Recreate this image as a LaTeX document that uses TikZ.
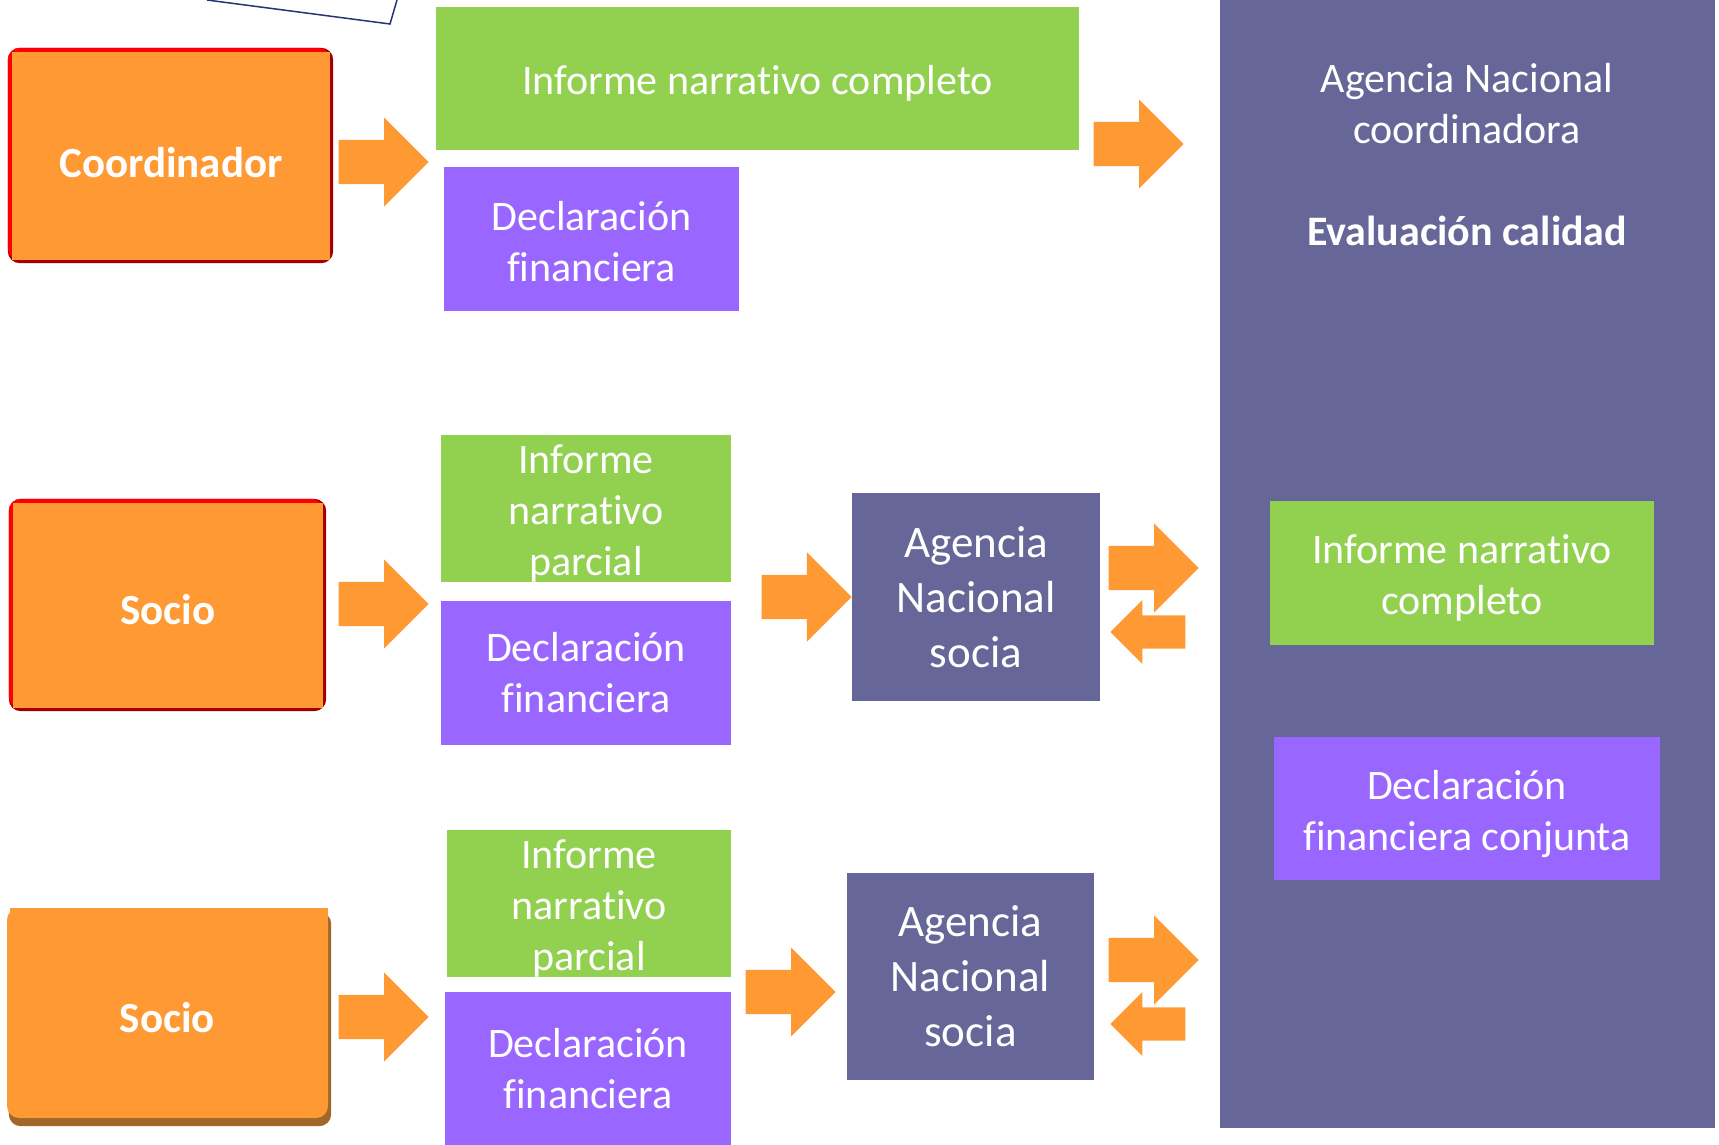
\documentclass[tikz,border=0pt]{standalone}
\usepackage{fontspec}
\setmainfont{Carlito}[Ligatures=NoCommon]
\usetikzlibrary{shapes.arrows,backgrounds}
\definecolor{orng}{RGB}{255,153,51}
\definecolor{grn}{RGB}{146,208,80}
\definecolor{vlt}{RGB}{153,102,255}
\definecolor{pnl}{RGB}{102,102,153}
\definecolor{dred}{RGB}{160,0,0}
\definecolor{brwn}{RGB}{160,102,42}
\definecolor{navy}{RGB}{37,53,112}
\newcommand\tup[1]{\rule{0pt}{#1}}
\begin{document}
\begin{tikzpicture}[x=1pt,y=-1pt,
  every node/.style={text=white,font=\fontsize{42}{51}\selectfont,align=center,inner sep=0pt},
  tdown/.style={execute at begin node={\rule{0pt}{#1}}},
  gbox/.style={fill=grn},
  vbox/.style={fill=vlt},
  pbox/.style={fill=pnl},
  obox/.style={fill=orng,font=\fontsize{43}{51}\selectfont\bfseries},
  agbox/.style={pbox,font=\fontsize{45}{55}\selectfont},
  barrow/.style={single arrow,fill=orng,minimum height=90pt,minimum width=89pt,
    single arrow head extend=22.5pt,inner ysep=22pt,anchor=tip},
  sarrow/.style={barrow,minimum height=75pt,minimum width=64pt,
    single arrow head extend=15.5pt,inner ysep=16.5pt,shape border rotate=180}]
\useasboundingbox (0,0) rectangle (1719,1145);

\draw[navy,line width=1.5pt] (207,0) -- (390,24) -- (397,0);

        \node[pbox,minimum width=495pt,minimum height=1128pt] (anc) at (1467.5,564) {};
        \node (anctxt) at (1467,104) {Agencia Nacional\\coordinadora};
        \node[font=\fontsize{42}{51}\selectfont\bfseries] (evalc) at (1467,231) {Evaluación calidad};
        \node[gbox,minimum width=384pt,minimum height=144pt] (infcj) at (1462,573) {\tup{39pt}Informe narrativo\\completo};
        \node[vbox,minimum width=386pt,minimum height=143pt] (declcj) at (1467,808.5) {\tup{40pt}Declaración\\financiera conjunta};

        \node[obox,tdown=43pt,minimum width=318pt,minimum height=208pt] (coord) at (171,156) {Coordinador};
        \node[gbox,tdown=39pt,minimum width=643pt,minimum height=143pt] (infc) at (757.5,78.5) {Informe narrativo completo};
        \node[vbox,minimum width=295pt,minimum height=144pt] (decl1) at (591.5,239) {\tup{35pt}Declaración\\financiera};
        \node[barrow] (a1) at (429,162) {};
        \node[barrow] (a2) at (1184,144) {};

        \node[obox,tdown=39pt,minimum width=310pt,minimum height=205pt] (socio1) at (168,605.5) {Socio};
        \node[gbox,minimum width=290pt,minimum height=145pt] (infp1) at (586,508.5) {\tup{39pt}Informe\\narrativo\\parcial};
        \node[vbox,minimum width=290pt,minimum height=144pt] (decl2) at (586,673) {Declaración\\financiera};
        \node[agbox,minimum width=248pt,minimum height=208pt] (ansm) at (976,597) {Agencia\\Nacional\\socia};
        \node[barrow] (a3) at (429,604) {};
        \node[barrow] (a4) at (ansm.west) {};
        \node[barrow] (a5) at (1199,568) {};
        \node[sarrow] (a6) at (1110,632) {};

        \node[obox,tdown=39pt,rounded corners=12pt,minimum width=321pt,minimum height=210pt] (socio2) at (167.5,1013) {Socio};
        \fill[orng] (10,908) rectangle (328,922);
        \node[gbox,minimum width=284pt,minimum height=145pt] (infp2) at (589,903.5) {\tup{39pt}Informe\\narrativo\\parcial};
        \node[vbox,minimum width=286pt,minimum height=153pt] (decl3) at (588,1068.5) {Declaración\\financiera};
        \node[agbox,minimum width=247pt,minimum height=207pt] (ansb) at (970.5,976.5) {Agencia\\Nacional\\socia};
        \node[barrow] (a7) at (429,1017) {};
        \node[barrow] (a8) at (836,992) {};
        \node[barrow] (a9) at (1199,960) {};
        \node[sarrow] (a10) at (1110,1024) {};

\begin{pgfonlayer}{background}
        \fill[dred,rounded corners=12pt] ([shift={(-4,-4)}]coord.north west) rectangle ([shift={(3,3)}]coord.south east);
        \fill[red,rounded corners=12pt] ([shift={(-4,-4)}]coord.north west) rectangle (coord.south east);
        \fill[dred,rounded corners=12pt] ([shift={(-4,-4)}]socio1.north west) rectangle ([shift={(3,3)}]socio1.south east);
        \fill[red,rounded corners=12pt] ([shift={(-4,-4)}]socio1.north west) rectangle (socio1.south east);
        \fill[brwn,rounded corners=12pt] ([shift={(2,4)}]socio2.north west) rectangle ([shift={(3,8)}]socio2.south east);
\end{pgfonlayer}
\end{tikzpicture}
\end{document}
